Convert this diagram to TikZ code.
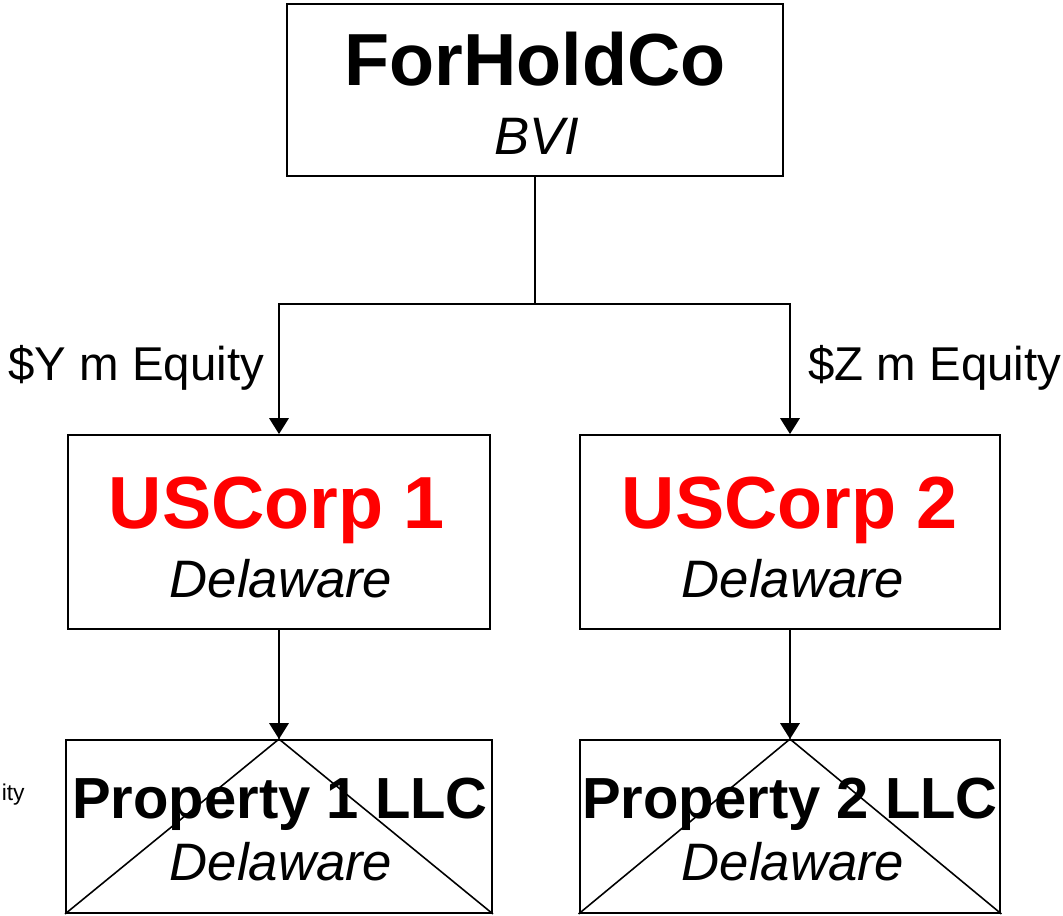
\documentclass[tikz,border=0pt]{standalone}
\usepackage{fontspec}
\setmainfont{Liberation Sans}
\usetikzlibrary{arrows.meta}
\definecolor{corpred}{HTML}{FF0000}
\begin{document}
\begin{tikzpicture}[x=0.02cm,y=-0.02cm,
  box/.style={draw=black,line width=1.1pt,rectangle,inner sep=0pt},
  conn/.style={draw=black,line width=1.1pt},
  arr/.style={conn,-{Triangle[width=11pt,length=9pt]}},
  tent/.style={draw=black,line width=0.9pt},
  title/.style={font=\fontsize{42}{48}\selectfont\bfseries,anchor=base,inner sep=0pt},
  ptitle/.style={font=\fontsize{33}{38}\selectfont\bfseries,anchor=base,inner sep=0pt},
  juris/.style={font=\fontsize{30}{35}\selectfont\itshape,anchor=base,inner sep=0pt},
  lbl/.style={font=\fontsize{27}{32}\selectfont,anchor=base,inner sep=0pt}]
\useasboundingbox[fill=white] (0,0) rectangle (1063,916);

% boxes
\node[box,minimum width=9.92cm,minimum height=3.44cm] (fh) at (535,90) {};
\node[box,minimum width=8.44cm,minimum height=3.88cm] (us1) at (279,532) {};
\node[box,minimum width=8.42cm,minimum height=3.88cm] (us2) at (790,532) {};
\node[box,minimum width=8.52cm,minimum height=3.46cm] (p1) at (279,826.5) {};
\node[box,minimum width=8.42cm,minimum height=3.46cm] (p2) at (790,826.5) {};

% tent lines in property boxes
\draw[tent] (p1.south west) -- (p1.north) -- (p1.south east);
\draw[tent] (p2.south west) -- (p2.north) -- (p2.south east);

% texts
\node[title] (fht) at (535,85) {ForHoldCo};
\node[juris] (fhj) at (537,154) {BVI};
\node[title,text=corpred] (us1t) at (277,528) {USCorp 1};
\node[juris] (us1j) at (281,597) {Delaware};
\node[title,text=corpred] (us2t) at (790,528) {USCorp 2};
\node[juris] (us2j) at (793,597) {Delaware};
\node[ptitle] (p1t) at (280,818) {Property 1 LLC};
\node[juris] (p1j) at (281,880) {Delaware};
\node[ptitle] (p2t) at (790,818) {Property 2 LLC};
\node[juris] (p2j) at (793,880) {Delaware};

% labels
\node[lbl,anchor=base west] (ly) at (8,380) {\$Y m Equity};
\node[lbl,anchor=base west] (lz) at (808,380) {\$Z m Equity};
\node[font=\fontsize{13}{15}\selectfont,anchor=base east,inner sep=0pt] (lx) at (25,800) {ity};

% connectors
\coordinate (j) at (535,304);
\draw[conn] (fh.south) -- (j);
\draw[arr] (j) -| (us1.north);
\draw[arr] (j) -| (us2.north);
\draw[arr] (us1.south) -- (p1.north);
\draw[arr] (us2.south) -- (p2.north);
\end{tikzpicture}
\end{document}
